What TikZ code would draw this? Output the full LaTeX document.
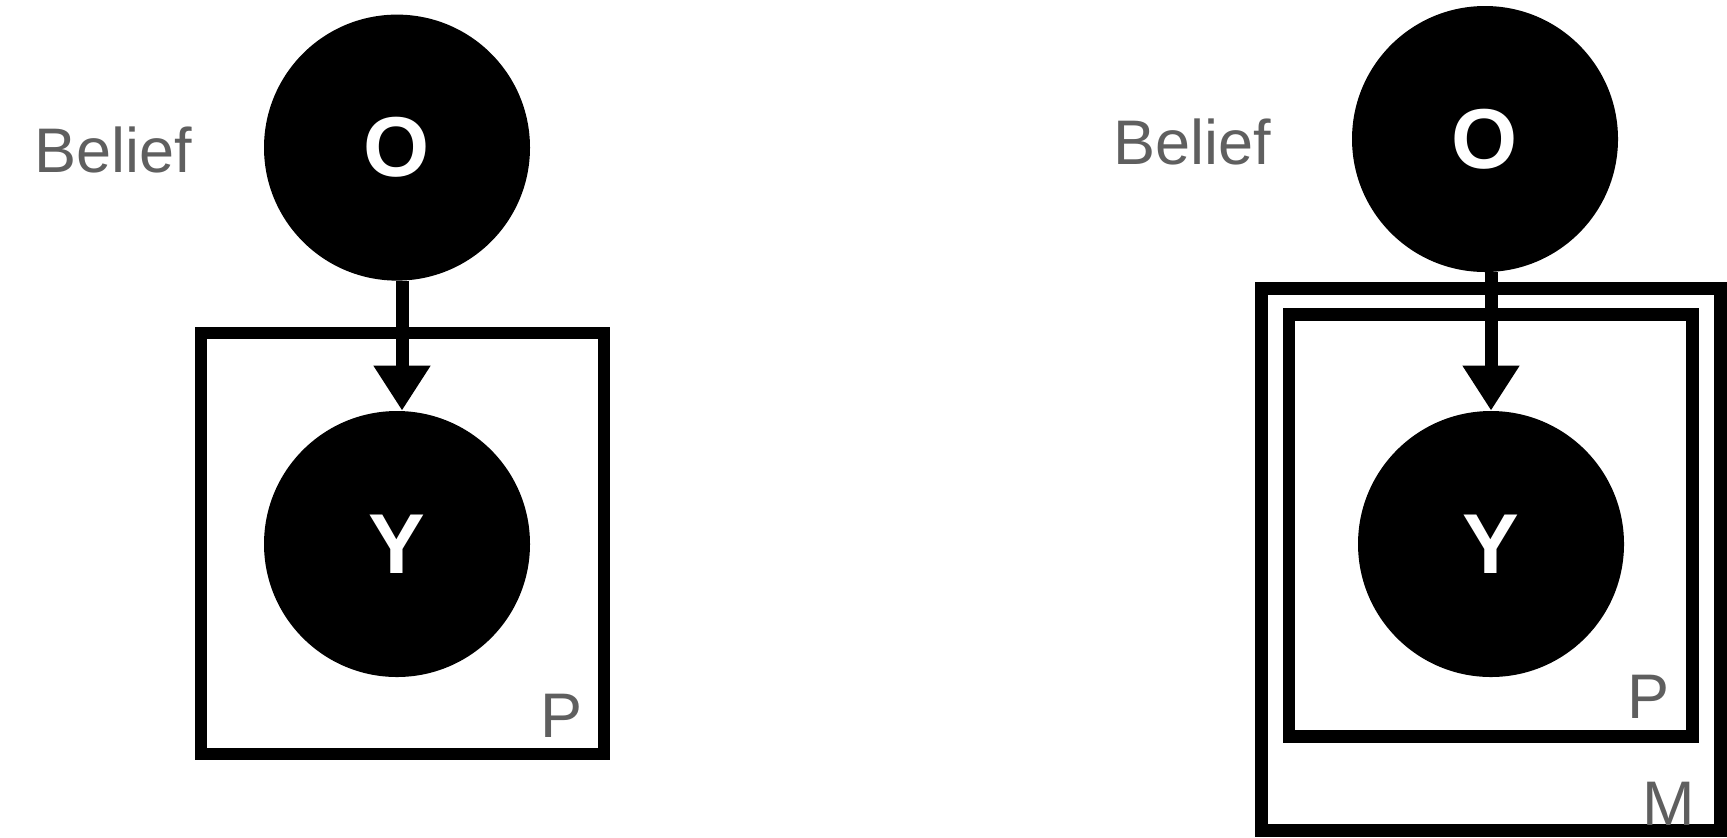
\documentclass[tikz,border=0pt]{standalone}
\usepackage{fontspec}
\setmainfont{Liberation Sans}
\usetikzlibrary{arrows.meta}
\definecolor{lblgray}{HTML}{5F5F5F}
\begin{document}
\begin{tikzpicture}[x=0.5pt,y=-0.5pt,
  var/.style={circle,fill=black,inner sep=0pt,minimum size=266*0.5pt,text=white,
    font=\fontsize{42.5pt}{48pt}\selectfont\bfseries},
  lbl/.style={anchor=base west,inner sep=0pt,text=lblgray,
    font=\fontsize{31.5pt}{36pt}\selectfont},
  plate/.style={draw=black,line width=6.25pt,line join=miter},
  arr/.style={draw=black,line width=6.5pt,-{Triangle[length=22.5pt,width=27pt]}}]
\useasboundingbox (0,0) rectangle (1727,837);
% left panel
\draw[plate] (201,333) rectangle (604,754);
\node[var] (O1) at (397,147.6) {O};
\node[var] (Y1) at (397,544) {Y};
\draw[arr] ([xshift=2.5pt]O1.south) -- ([xshift=2.5pt]Y1.north);
\node[lbl] (B1) at (34.5,172) {Belief};
\node[lbl] (P1) at (540,737) {P};
% right panel
\draw[plate] (1261.6,288.6) rectangle (1720.5,830.5);
\draw[plate] (1289,314.7) rectangle (1692.6,736.5);
\node[var] (O2) at (1485,139) {O};
\node[var] (Y2) at (1491,544) {Y};
\draw[arr] ([xshift=3pt]O2.south) -- (Y2.north);
\node[lbl] (B2) at (1113.5,164.4) {Belief};
\node[lbl] (P2) at (1627,718) {P};
\node[lbl] (M2) at (1642,825) {M};
\end{tikzpicture}
\end{document}
